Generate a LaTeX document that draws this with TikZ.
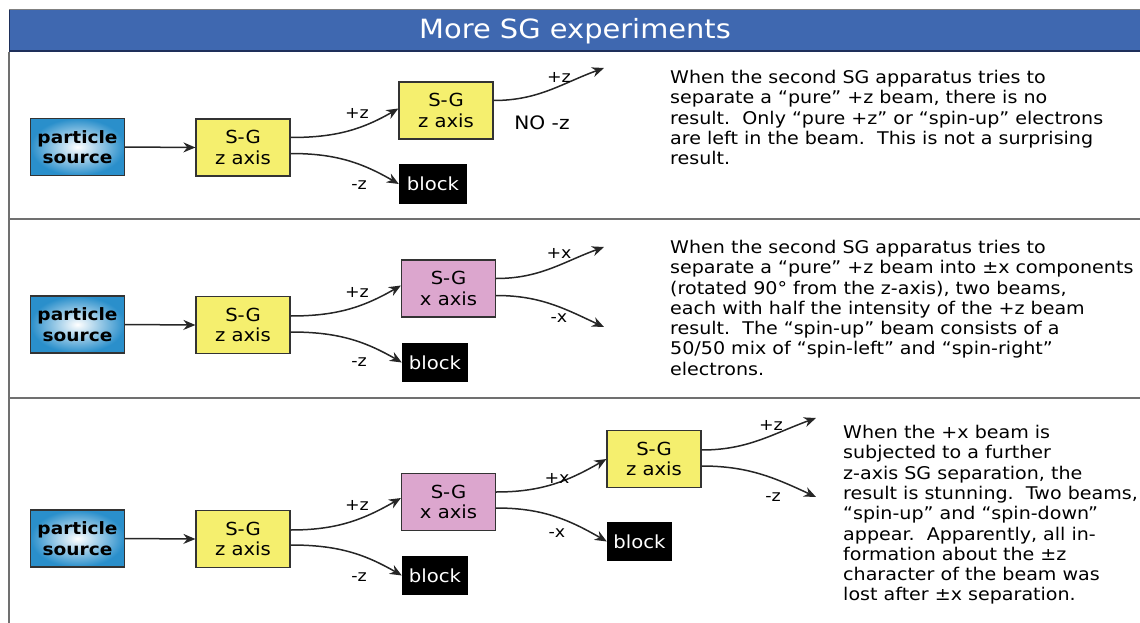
\documentclass[tikz,border=0pt]{standalone}
\usepackage{fontspec}
\setmainfont{DejaVu Sans}[FakeStretch=1.09]
\usetikzlibrary{arrows.meta}

\definecolor{titleblue}{HTML}{3F68B0}
\definecolor{titledark}{HTML}{1E2F5A}
\definecolor{sgyellow}{HTML}{F5EF6E}
\definecolor{sgpink}{HTML}{DCA6CE}
\definecolor{srcblue}{HTML}{2A8FCB}
\definecolor{framegray}{HTML}{707070}

% body text of the explanations: fixed line pitch
\newcommand\desctext{\fontsize{17.5}{20.3}\selectfont\lineskiplimit=-20pt\relax}

\tikzset{
  box/.style={draw=black!80, line width=1.2pt, minimum width=94pt, minimum height=57pt,
    inner sep=0pt, align=center, font=\fontsize{18}{20.5}\selectfont},
  sgz/.style={box, fill=sgyellow},
  sgx/.style={box, fill=sgpink},
  source/.style={box, inner color=white, outer color=srcblue,
    font=\fontsize{17}{20.5}\selectfont\bfseries},
  blockbox/.style={fill=black, text=white, minimum width=66pt, minimum height=39pt,
    inner sep=0pt, font=\fontsize{18}{20}\selectfont},
  beam/.style={draw=black!85, line width=1.5pt, -{Stealth[length=12pt,width=10pt]}},
  lab/.style={inner sep=0pt, font=\fontsize{16}{16}\selectfont},
  desc/.style={anchor=north west, align=left, inner sep=0pt, font=\desctext},
  sep/.style={draw=framegray, line width=2pt}
}

\begin{document}
\begin{tikzpicture}[x=1pt, y=-1pt]
\useasboundingbox (0,0) rectangle (1140,623);

% title bar
\fill[titleblue] (9,10) rectangle (1140,51);
\draw[gray, line width=1pt] (9,9.5) -- (1140,9.5);
\draw[titledark, line width=2.5pt] (9,51) -- (1140,51);
\draw[titledark, line width=1pt] (9,10) -- (9,51);
\node[text=white, font=\fontsize{26.5}{30}\selectfont] (title) at (575,31) {More SG experiments};

% frame and panel separators
\draw[sep] (9,52) -- (9,623);
\draw[sep] (9,219) -- (1140,219);
\draw[sep] (9,398) -- (1140,398);

% ---------- panel 1 ----------
\node[source] (src1) at (77.5,147) {particle\\source};
\node[sgz] (sg1a) at (243,147.5) {S-G\\z axis};
\node[sgz] (sg1b) at (446,110.5) {S-G\\z axis};
\node[blockbox, minimum width=68pt, minimum height=40pt] (blk1) at (433,184) {block};
\coordinate (e1) at (604,68);

\draw[beam] (src1.east) -- (sg1a.west);
\draw[beam] ([yshift=10pt]sg1a.east) to[out=0,in=210] ([yshift=2pt]sg1b.west);
\draw[beam] ([yshift=-6pt]sg1a.east) to[out=0,in=150] (blk1.west);
\draw[beam] ([yshift=10pt]sg1b.east) to[out=0,in=200] (e1);

\node[lab] (l1a) at (357,113) {+z};
\node[lab] (l1b) at (359,185) {-z};
\node[lab] (l1c) at (559,77) {+z};
\node[inner sep=0pt, font=\fontsize{18.5}{20}\selectfont] (l1d) at (542,123) {NO -z};

\node[desc] (d1) at (670,70) {When the second SG apparatus tries to\\
separate a “pure” +z beam, there is no\\
result.\ \ Only “pure +z” or “spin-up” electrons\\
are left in the beam.\ \ This is not a surprising\\
result.};

% ---------- panel 2 ----------
\node[source] (src2) at (77.5,324.5) {particle\\source};
\node[sgz] (sg2a) at (243,325) {S-G\\z axis};
\node[sgx] (sg2b) at (448.5,288.5) {S-G\\x axis};
\node[blockbox] (blk2) at (435,362.5) {block};
\coordinate (e2p) at (604,247);
\coordinate (e2m) at (604,327);

\draw[beam] (src2.east) -- (sg2a.west);
\draw[beam] ([yshift=9pt]sg2a.east) to[out=0,in=210] ([yshift=3pt]sg2b.west);
\draw[beam] ([yshift=-7pt]sg2a.east) to[out=0,in=150] (blk2.west);
\draw[beam] ([yshift=10pt]sg2b.east) to[out=0,in=200] (e2p);
\draw[beam] ([yshift=-7pt]sg2b.east) to[out=0,in=155] (e2m);

\node[lab] (l2a) at (357,292) {+z};
\node[lab] (l2b) at (359,362) {-z};
\node[lab] (l2c) at (559,253) {+x};
\node[lab] (l2d) at (559,318) {-x};

\node[desc] (d2) at (670,240) {When the second SG apparatus tries to\\
separate a “pure” +z beam into ±x components\\
(rotated 90° from the z-axis), two beams,\\
each with half the intensity of the +z beam\\
result.\ \ The “spin-up” beam consists of a\\
50/50 mix of “spin-left” and “spin-right”\\
electrons.};

% ---------- panel 3 ----------
\node[source] (src3) at (77.5,538.5) {particle\\source};
\node[sgz] (sg3a) at (243,539) {S-G\\z axis};
\node[sgx] (sg3b) at (448.5,502) {S-G\\x axis};
\node[blockbox] (blk3a) at (435,575.5) {block};
\node[sgz] (sg3c) at (654,459) {S-G\\z axis};
\node[blockbox, minimum width=65pt] (blk3b) at (639.5,541.5) {block};
\coordinate (e3p) at (816,418);
\coordinate (e3m) at (816,497);

\draw[beam] (src3.east) -- (sg3a.west);
\draw[beam] ([yshift=9pt]sg3a.east) to[out=0,in=210] ([yshift=4pt]sg3b.west);
\draw[beam] ([yshift=-6pt]sg3a.east) to[out=0,in=150] (blk3a.west);
\draw[beam] ([yshift=10pt]sg3b.east) to[out=0,in=210] (sg3c.west);
\draw[beam] ([yshift=-6pt]sg3b.east) to[out=0,in=150] (blk3b.west);
\draw[beam] ([yshift=9pt]sg3c.east) to[out=0,in=200] (e3p);
\draw[beam] ([yshift=-7pt]sg3c.east) to[out=0,in=155] (e3m);

\node[lab] (l3a) at (357,505) {+z};
\node[lab] (l3b) at (359,577) {-z};
\node[lab] (l3c) at (557,478) {+x};
\node[lab] (l3d) at (557,533) {-x};
\node[lab] (l3e) at (771,425) {+z};
\node[lab] (l3f) at (773,497) {-z};

\node[desc] (d3) at (843,425) {When the +x beam is\\
subjected to a further\\
z-axis SG separation, the\\
result is stunning.\ \ Two beams,\\
“spin-up” and “spin-down”\\
appear.\ \ Apparently, all in-\\
formation about the ±z\\
character of the beam was\\
lost after ±x separation.};
\end{tikzpicture}
\end{document}
